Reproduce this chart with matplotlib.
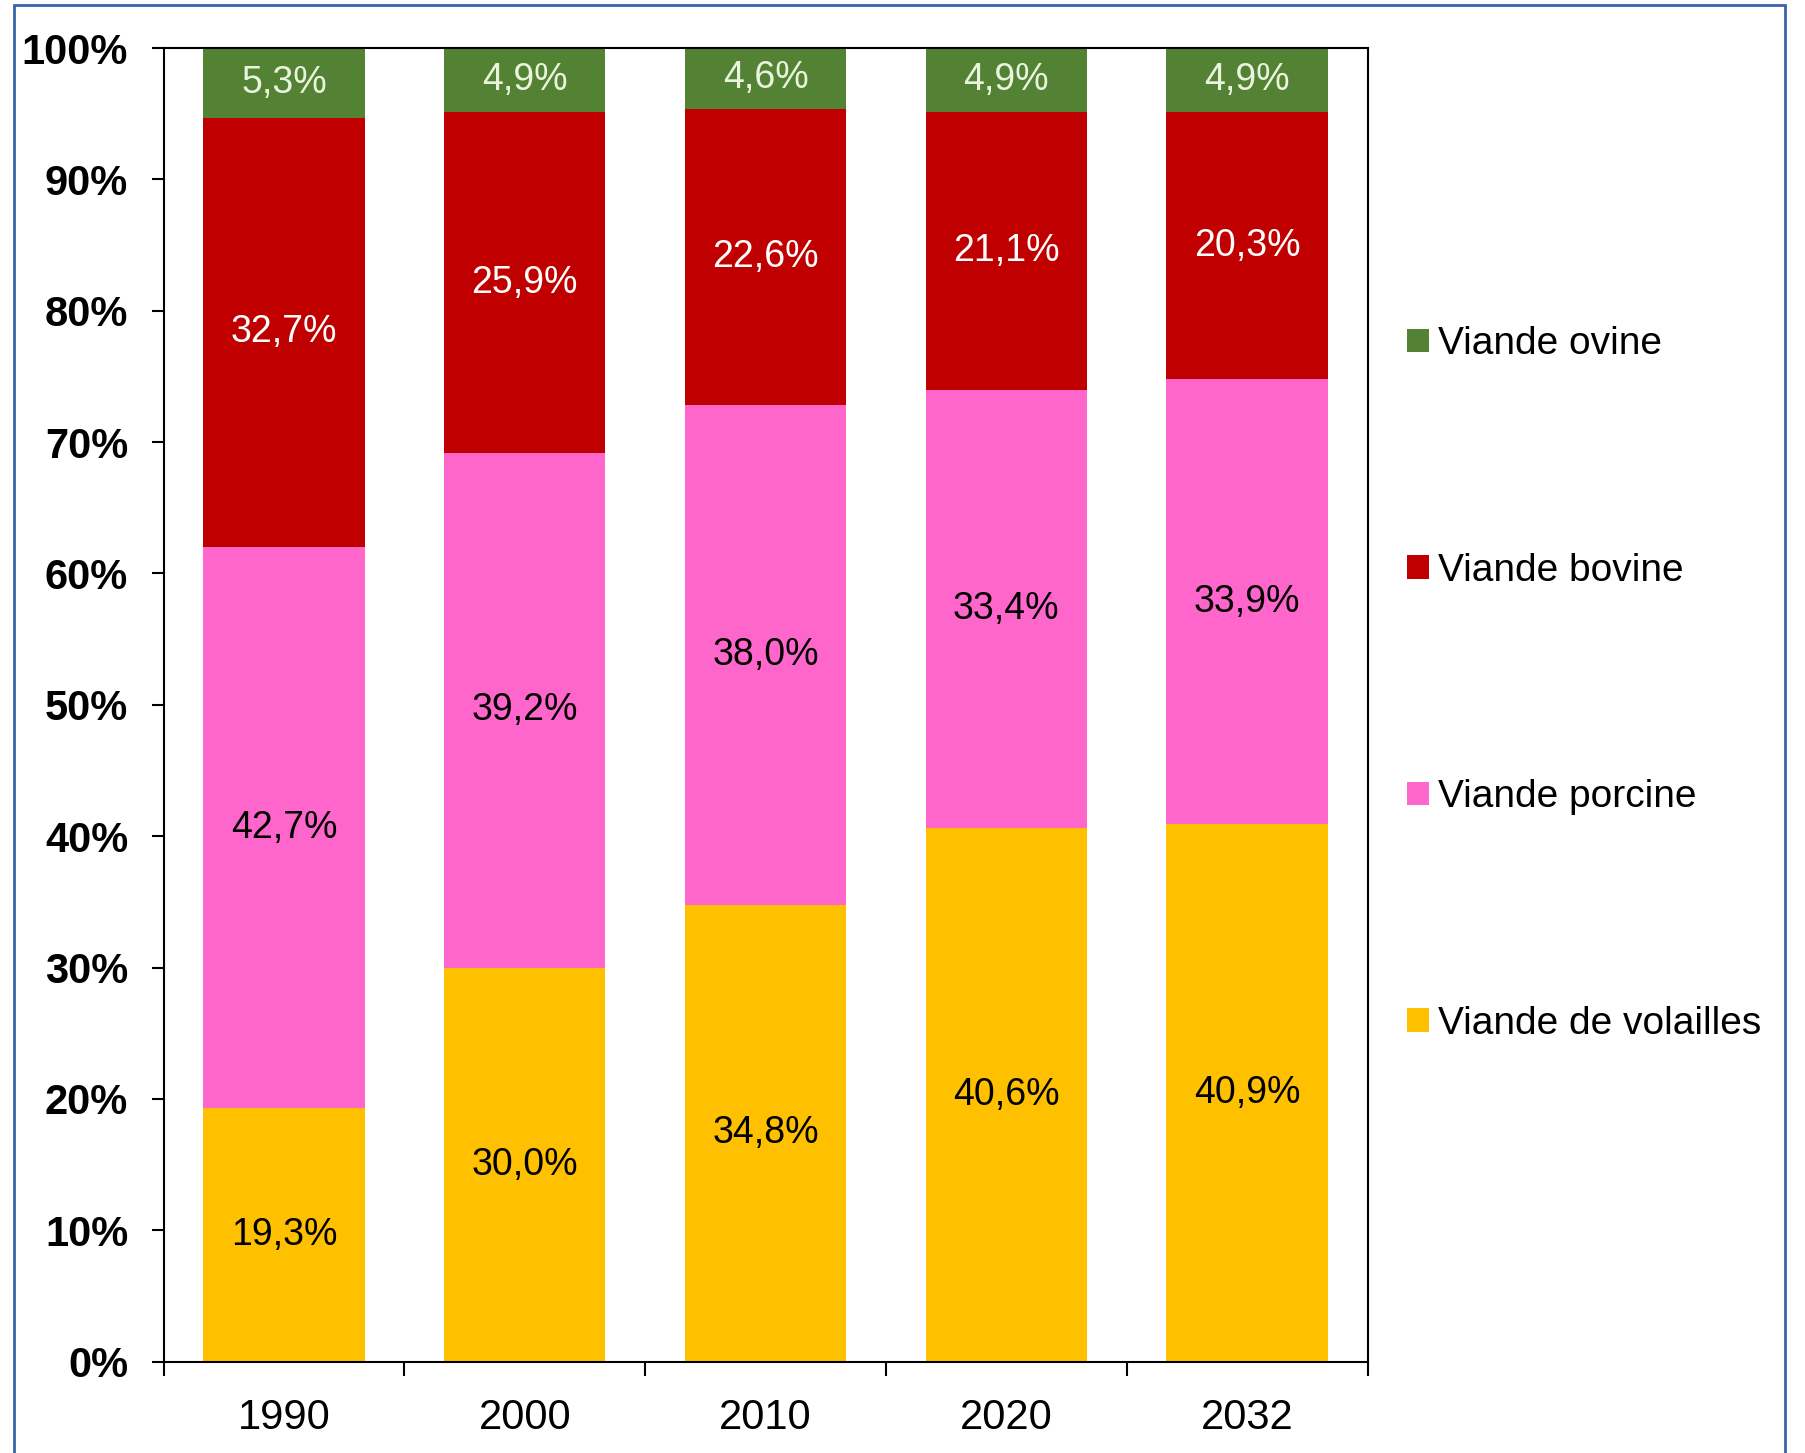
import matplotlib
matplotlib.use('Agg')
import matplotlib.pyplot as plt
import matplotlib.patches as mpatches
import numpy as np

# ==================== 数据 ====================
years = ['1990', '2000', '2010', '2020', '2032']
volailles = [19.3, 30.0, 34.8, 40.6, 40.9]
porcine = [42.7, 39.2, 38.0, 33.4, 33.9]
bovine = [32.7, 25.9, 22.6, 21.1, 20.3]
ovine = [5.3, 4.9, 4.6, 4.9, 4.9]

series_names = ['Viande de volailles', 'Viande porcine', 'Viande bovine', 'Viande ovine']
series_values = [volailles, porcine, bovine, ovine]
colors = ['#FFC000', '#FF66CC', '#C00000', '#548235']
text_colors = ['black', 'black', 'white', '#EAF3DC']

plt.rcParams['font.family'] = ['Liberation Sans', 'DejaVu Sans']

# ==================== 绘图 ====================
fig = plt.figure(figsize=(18.06, 14.53), dpi=100)
ax = fig.add_axes([0.0906, 0.0629, 0.6666, 0.9040])

x = np.arange(len(years))
bottom = np.zeros(len(years))
for name, vals, c, tc in zip(series_names, series_values, colors, text_colors):
    vals = np.array(vals)
    ax.bar(x, vals, width=0.67, bottom=bottom, color=c, label=name, zorder=2)
    for xi, b, v in zip(x, bottom, vals):
        ax.text(xi, b + v / 2, f'{v:.1f}%'.replace('.', ','), ha='center', va='center',
                fontsize=27, color=tc)
    bottom += vals

ax.set_xlim(-0.5, 4.5)
ax.set_ylim(0, 100)
ax.set_yticks(np.arange(0, 101, 10))
ax.set_yticklabels([f'{v}%' for v in range(0, 101, 10)], fontsize=30, fontweight='bold')
ax.set_xticks(x)
ax.set_xticklabels(years, fontsize=30)
ax.set_xticks(np.arange(-0.5, 5, 1), minor=True)
ax.tick_params(axis='x', which='major', length=0, pad=26)
ax.tick_params(axis='x', which='minor', length=10, width=1.5, direction='out')
ax.tick_params(axis='y', length=8.5, width=1.5, direction='out', pad=17)
for s in ax.spines.values():
    s.set_linewidth(1.5)
    s.set_color('black')

handles, labels = ax.get_legend_handles_labels()
leg = ax.legend(handles[::-1], labels[::-1], loc='center left',
                bbox_to_anchor=(1.02, 0.516), frameon=False, fontsize=28,
                handlelength=0.55, handleheight=0.55, handletextpad=0.25,
                labelspacing=4.9, borderaxespad=0)

# 蓝色外框
fig.patches.append(mpatches.Rectangle((14 / 1806, -0.05), (1785 - 14) / 1806, 1.05 - 5 / 1453,
                                      transform=fig.transFigure, fill=False,
                                      edgecolor='#3B64A8', linewidth=2.0))

plt.savefig('out.png', dpi=100)
plt.close()
